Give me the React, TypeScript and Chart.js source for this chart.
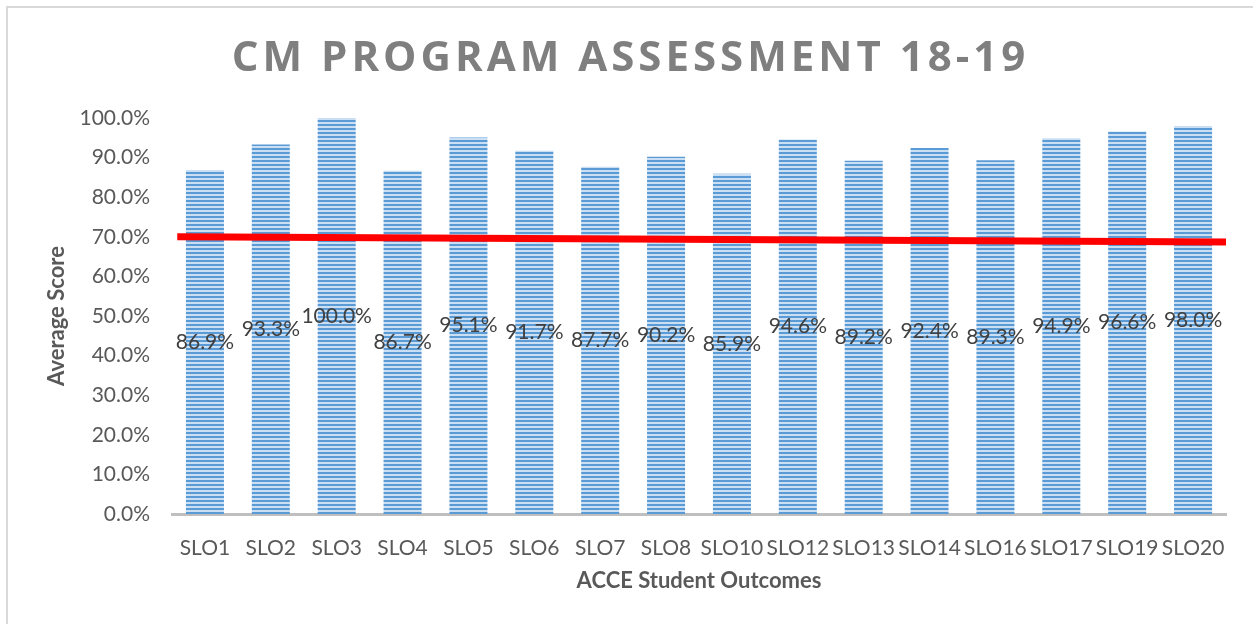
import React, { useEffect, useRef } from "react";
import { Chart, registerables } from "chart.js";

Chart.register(...registerables);

const titleText = "CM PROGRAM ASSESSMENT 18-19";
const xTitle = "ACCE Student Outcomes";
const yTitle = "Average Score";

const categories = [
  "SLO1", "SLO2", "SLO3", "SLO4", "SLO5", "SLO6", "SLO7", "SLO8",
  "SLO10", "SLO12", "SLO13", "SLO14", "SLO16", "SLO17", "SLO19", "SLO20",
];
const scores = [86.9, 93.3, 100.0, 86.7, 95.1, 91.7, 87.7, 90.2, 85.9, 94.6, 89.2, 92.4, 89.3, 94.9, 96.6, 98.0];

// target / trend line (position along the category axis, percent)
const targetX = [0.08, 16.0];
const targetY = [70.0, 68.7];

const yTicks = [0, 10, 20, 30, 40, 50, 60, 70, 80, 90, 100];

export default function App() {
  const ref = useRef<HTMLCanvasElement>(null);

  useEffect(() => {
    const canvas = ref.current!;
    const ctx = canvas.getContext("2d")!;

    const pc = document.createElement("canvas");
    pc.width = 4;
    pc.height = 4;
    const pctx = pc.getContext("2d")!;
    pctx.fillStyle = "#cadff3";
    pctx.fillRect(0, 0, 4, 4);
    pctx.fillStyle = "#5b9bd5";
    pctx.fillRect(0, 0, 4, 2);
    const pattern = ctx.createPattern(pc, "repeat")!;

    const framePlugin = {
      id: "frame",
      beforeDraw(chart: any) {
        const c = chart.ctx;
        c.save();
        c.fillStyle = "#ffffff";
        c.fillRect(0, 0, chart.width, chart.height);
        c.strokeStyle = "#d9d9d9";
        c.lineWidth = 2;
        c.strokeRect(7, 7, chart.width + 20, chart.height + 20);
        c.restore();
      },
      afterDraw(chart: any) {
        const c = chart.ctx;
        c.save();
        c.font = 'bold 42px "Open Sans"';
        (c as any).letterSpacing = "4px";
        c.fillStyle = "#7f7f7f";
        c.textAlign = "center";
        c.textBaseline = "middle";
        c.fillText(titleText, chart.width / 2 + 4, 59);
        c.restore();
      },
    };

    const labelPlugin = {
      id: "barLabels",
      afterDatasetsDraw(chart: any) {
        const meta = chart.getDatasetMeta(1);
        const c = chart.ctx;
        c.save();
        c.font = "21px Lato";
        c.fillStyle = "#404040";
        c.textAlign = "center";
        c.textBaseline = "middle";
        meta.data.forEach((el: any, i: number) => {
          const y = (el.y + el.base) / 2;
          c.fillText(scores[i].toFixed(1) + "%", el.x, y);
        });
        c.restore();
      },
    };

    const chart = new Chart(ctx, {
      type: "bar",
      data: {
        datasets: [
          {
            type: "line",
            label: "Target",
            data: targetX.map((x, i) => ({ x, y: targetY[i] })),
            borderColor: "#ff0000",
            borderWidth: 7,
            pointRadius: 0,
            fill: false,
            order: 0,
            clip: false,
          } as any,
          {
            type: "bar",
            label: "Average Score",
            data: scores.map((y, i) => ({ x: i + 0.5, y })),
            backgroundColor: pattern,
            borderWidth: 0,
            barPercentage: 0.577,
            categoryPercentage: 1,
            order: 1,
          },
        ],
      },
      options: {
        animation: false,
        responsive: true,
        maintainAspectRatio: false,
        layout: { padding: { top: 118, right: 27, left: 0, bottom: 0 } },
        plugins: {
          legend: { display: false },
          title: { display: false },
          tooltip: { enabled: false },
        },
        scales: {
          x: {
            type: "linear",
            min: 0,
            max: categories.length,
            offset: false,
            grid: { display: false, drawTicks: false, offset: false },
            border: { display: true, color: "#bfbfbf", width: 3 },
            afterBuildTicks(scale: any) {
              scale.ticks = categories.map((_, i) => ({ value: i + 0.5 }));
            },
            ticks: {
              color: "#595959",
              font: { family: "Lato", size: 21 },
              padding: 22,
              maxRotation: 0,
              autoSkip: false,
              callback: (_v: any, i: number) => categories[i],
            },
            title: {
              display: true,
              text: xTitle,
              color: "#595959",
              font: { family: "Lato", size: 22, weight: "bold" },
              padding: { top: 0, bottom: 30 },
            },
            afterFit(scale: any) {
              scale.height = 110;
            },
          },
          y: {
            min: 0,
            max: 100,
            grid: { display: false, drawTicks: false },
            border: { display: false },
            afterBuildTicks(scale: any) {
              scale.ticks = yTicks.map((v) => ({ value: v }));
            },
            ticks: {
              color: "#595959",
              font: { family: "Lato", size: 21 },
              padding: 22,
              callback: (v: any) => Number(v).toFixed(1) + "%",
            },
            title: {
              display: true,
              text: yTitle,
              color: "#595959",
              font: { family: "Lato", size: 22, weight: "bold" },
              padding: { top: 44, bottom: 0 },
            },
            afterFit(scale: any) {
              scale.width = 172;
            },
          },
        },
      } as any,
      plugins: [framePlugin, labelPlugin],
    });

    return () => chart.destroy();
  }, []);

  return (
    <div style={{ position: "absolute", left: 0, top: 0, width: 1253, height: 624 }}>
      <canvas ref={ref} />
    </div>
  );
}
